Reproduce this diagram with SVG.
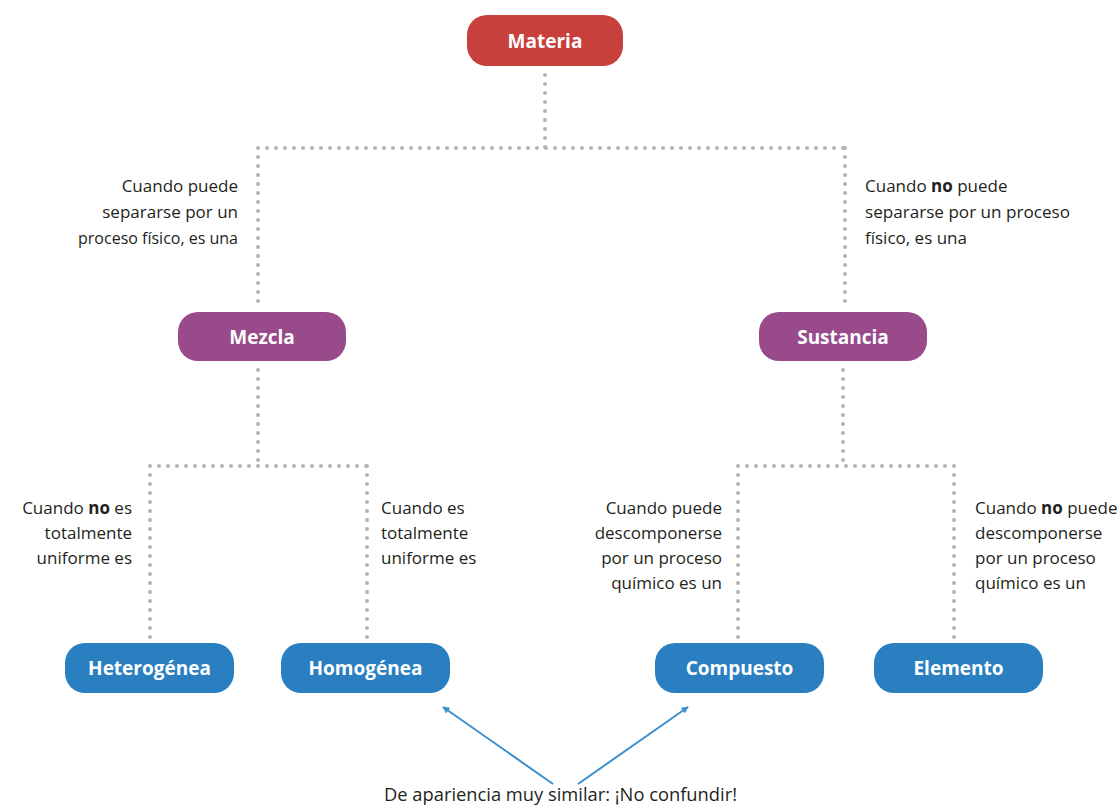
<svg xmlns="http://www.w3.org/2000/svg" width="1117" height="808" viewBox="0 0 1117 808">
<style>
.bg{fill:#fff}
.red{fill:#c7403b}
.pur{fill:#984a8b}
.blu{fill:#2a7fc1}
.nt{font-family:"Open Sans","Liberation Sans",sans-serif;font-weight:bold;font-size:19px;fill:#fff;text-anchor:middle}
.lb{font-family:"Open Sans","Liberation Sans",sans-serif;font-size:17px;fill:#231f20}
.r{text-anchor:end}
.dot{fill:none;stroke:#b3b3b3;stroke-width:4;stroke-linecap:round;stroke-dasharray:0 9}
.arr{fill:none;stroke:#3b8fce;stroke-width:2}
</style>
<defs>
<marker id="ah" viewBox="0 0 10 10" refX="9" refY="5" markerWidth="7" markerHeight="7" orient="auto-start-reverse" markerUnits="userSpaceOnUse">
<path d="M0,0 L10,5 L0,10 z" fill="#3b8fce"/>
</marker>
</defs>
<rect class="bg" width="1117" height="808"/>
<g id="connectors">
<path class="dot" d="M545,75 V148 M258,148 H845 M258,148 V305 M845,148 V305"/>
<path class="dot" d="M258,370 V466 M150,466 H367 M150,466 V638 M367,466 V638"/>
<path class="dot" d="M843,370 V466 M738,466 H954 M738,466 V638 M954,466 V638"/>
<line class="arr" x1="553" y1="784" x2="443" y2="707" marker-end="url(#ah)"/>
<line class="arr" x1="578" y1="784" x2="688" y2="707" marker-end="url(#ah)"/>
</g>
<g id="materia"><rect class="red" x="467" y="15" width="156" height="51" rx="20"/><text class="nt" x="545" y="48">Materia</text></g>
<g id="mezcla"><rect class="pur" x="178" y="312" width="168" height="49" rx="20"/><text class="nt" x="262" y="344">Mezcla</text></g>
<g id="sustancia"><rect class="pur" x="759" y="312" width="168" height="49" rx="20"/><text class="nt" x="843" y="344">Sustancia</text></g>
<g id="heterogenea"><rect class="blu" x="65" y="643" width="169" height="50" rx="20"/><text class="nt" x="149.5" y="675">Heterogénea</text></g>
<g id="homogenea"><rect class="blu" x="281" y="643" width="169" height="50" rx="20"/><text class="nt" x="365.5" y="675">Homogénea</text></g>
<g id="compuesto"><rect class="blu" x="655" y="643" width="169" height="50" rx="20"/><text class="nt" x="739.5" y="675">Compuesto</text></g>
<g id="elemento"><rect class="blu" x="874" y="643" width="169" height="50" rx="20"/><text class="nt" x="958.5" y="675">Elemento</text></g>
<g id="labels">
<text class="lb r" x="238" y="192">Cuando puede</text>
<text class="lb r" x="238" y="218">separarse por un</text>
<text class="lb r" x="238" y="244" style="font-size:16px">proceso físico, es una</text>
<text class="lb" x="865" y="192">Cuando <tspan font-weight="bold">no</tspan> puede</text>
<text class="lb" x="865" y="218" textLength="205" lengthAdjust="spacingAndGlyphs">separarse por un proceso</text>
<text class="lb" x="865" y="244">físico, es una</text>
<text class="lb r" x="132" y="514">Cuando <tspan font-weight="bold">no</tspan> es</text>
<text class="lb r" x="132" y="539">totalmente</text>
<text class="lb r" x="132" y="564">uniforme es</text>
<text class="lb" x="381" y="514">Cuando es</text>
<text class="lb" x="381" y="539">totalmente</text>
<text class="lb" x="381" y="564">uniforme es</text>
<text class="lb r" x="722" y="514">Cuando puede</text>
<text class="lb r" x="722" y="539">descomponerse</text>
<text class="lb r" x="722" y="564">por un proceso</text>
<text class="lb r" x="722" y="589">químico es un</text>
<text class="lb" x="975" y="514">Cuando <tspan font-weight="bold">no</tspan> puede</text>
<text class="lb" x="975" y="539">descomponerse</text>
<text class="lb" x="975" y="564">por un proceso</text>
<text class="lb" x="975" y="589">químico es un</text>
<text class="lb" x="384" y="801" style="font-size:19px" textLength="353" lengthAdjust="spacingAndGlyphs">De apariencia muy similar: ¡No confundir!</text>
</g>
</svg>
